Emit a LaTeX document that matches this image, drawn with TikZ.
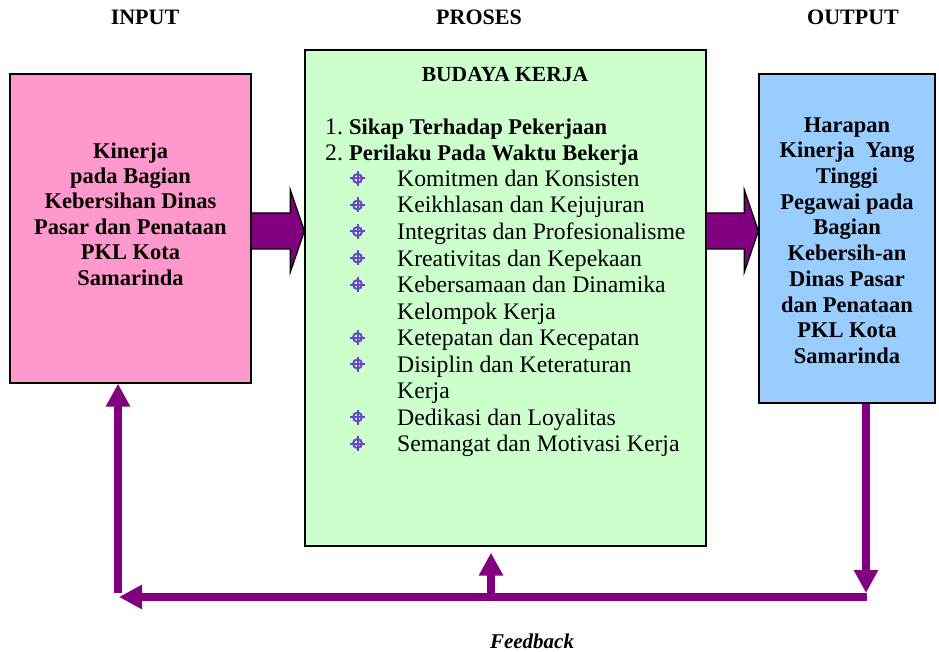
\documentclass[tikz,border=0pt]{standalone}
\usepackage{fontspec}
\setmainfont{Liberation Serif}
\usetikzlibrary{arrows.meta, calc, positioning}
\definecolor{mypink}{RGB}{255,153,204}
\definecolor{mygreen}{RGB}{204,255,204}
\definecolor{myblue}{RGB}{153,204,255}
\definecolor{mypurple}{RGB}{128,0,128}
\definecolor{mybullet}{RGB}{105,70,200}

\tikzset{
box/.style={draw=black, line width=1.3pt, inner sep=0pt},
boxtext/.style={align=center, font=\fontsize{22.5}{25.4}\selectfont\bfseries},
head/.style={anchor=base, font=\fontsize{22}{24}\selectfont\bfseries},
item/.style={anchor=base west, inner sep=0pt, font=\fontsize{23.7}{26}\selectfont},
bolditem/.style={item, font=\fontsize{22.5}{26}\selectfont\bfseries},
bul/.style={circle, draw=mybullet, line width=2pt, minimum size=9pt, inner sep=0pt},
bulcross/.style={draw=mybullet, line width=2pt},
fatarrow/.style={fill=mypurple, draw=black, line width=1.3pt, line join=miter},
fb/.style={draw=mypurple, line width=8pt},
tip/.style={-{Triangle[length=23pt,width=23pt]}}
}

\begin{document}
\begin{tikzpicture}[x=1pt, y=-1pt]
\useasboundingbox (0,0) rectangle (939,652);

%headings
\node[head] (hin) at (145,25) {INPUT};
\node[head] (hpro) at (479,25) {PROSES};
\node[head] (hout) at (853,25) {OUTPUT};

%boxes
\node[box, fill=mypink, minimum width=241pt, minimum height=309pt] (inp) at (130.5,228.5) {};
\node[box, fill=mygreen, minimum width=401pt, minimum height=496pt] (mid) at (505.5,298) {};
\node[box, fill=myblue, minimum width=176pt, minimum height=329pt] (out) at (847,238.5) {};

%box texts
\node[boxtext] (inptxt) at (130.5,214) {Kinerja\\pada Bagian\\Kebersihan Dinas\\Pasar dan Penataan\\PKL Kota\\Samarinda};
\node[boxtext, font=\fontsize{22.5}{25.7}\selectfont\bfseries] (outtxt) at (847,240.5) {Harapan\\Kinerja~ Yang\\Tinggi\\Pegawai pada\\Bagian\\Kebersih-an\\Dinas Pasar\\dan Penataan\\PKL Kota\\Samarinda};

\node[head, font=\fontsize{21.5}{24}\selectfont\bfseries] (judul) at (505,82) {BUDAYA KERJA};
\node[item] (n1) at (325,134.5) {1.};
\node[bolditem] (s1) at (349,134.5) {Sikap Terhadap Pekerjaan};
\node[item] (n2) at (325,160.5) {2.};
\node[bolditem] (s2) at (349,160.5) {Perilaku Pada Waktu Bekerja};

\foreach \i/\txt in {0/Komitmen dan Konsisten, 1/Keikhlasan dan Kejujuran,
  2/Integritas dan Profesionalisme, 3/Kreativitas dan Kepekaan,
  4/Kebersamaan dan Dinamika, 6/Ketepatan dan Kecepatan,
  7/Disiplin dan Keteraturan, 9/Dedikasi dan Loyalitas,
  10/Semangat dan Motivasi Kerja}{
  \pgfmathsetmacro\yb{186.5+26.5*\i}
  \node[bul] (b\i) at (357.5,\yb-8) {};
  \draw[bulcross] ($(b\i)+(-7.5,0)$) -- ($(b\i)+(7.5,0)$) ($(b\i)+(0,-7.5)$) -- ($(b\i)+(0,7.5)$);
  \node[item] (t\i) at (397,\yb) {\txt};
}
\node[item] (t5) at (397,186.5+26.5*5) {Kelompok Kerja};
\node[item] (t8) at (397,186.5+26.5*8) {Kerja};

%block arrows
\coordinate (a1s) at (inp.east |- 0,231);
\coordinate (a1e) at (mid.west |- 0,231);
\coordinate (a2s) at (mid.east |- 0,231);
\coordinate (a2e) at (out.west |- 0,231);
\draw[fatarrow] ($(a1s)+(0,-18)$) -- ($(a1e)+(-14,-18)$) -- ($(a1e)+(-14,-41)$) -- (a1e)
  -- ($(a1e)+(-14,41)$) -- ($(a1e)+(-14,18)$) -- ($(a1s)+(0,18)$);
\draw[fatarrow] ($(a2s)+(0,-18)$) -- ($(a2e)+(-14,-18)$) -- ($(a2e)+(-14,-41)$) -- (a2e)
  -- ($(a2e)+(-14,41)$) -- ($(a2e)+(-14,18)$) -- ($(a2s)+(0,18)$);

%feedback
\coordinate (fbR) at (867,597);
\coordinate (fbL) at (119,597);
\coordinate (fbRt) at (866,593);
\coordinate (fbLb) at (118,593);
\coordinate (fbM) at (491,593);
\draw[fb,tip] (out.south -| fbRt) -- (fbRt);
\draw[fb,tip] (fbR) -- (fbL);
\draw[fb,tip] (fbLb) -- (fbLb |- inp.south);
\draw[fb,tip] (fbM) -- ($(fbM |- mid.south)+(0,6)$);
\node[head, font=\fontsize{21}{24}\selectfont\bfseries\itshape] (fbtxt) at (532,648) {Feedback};
\end{tikzpicture}
\end{document}
